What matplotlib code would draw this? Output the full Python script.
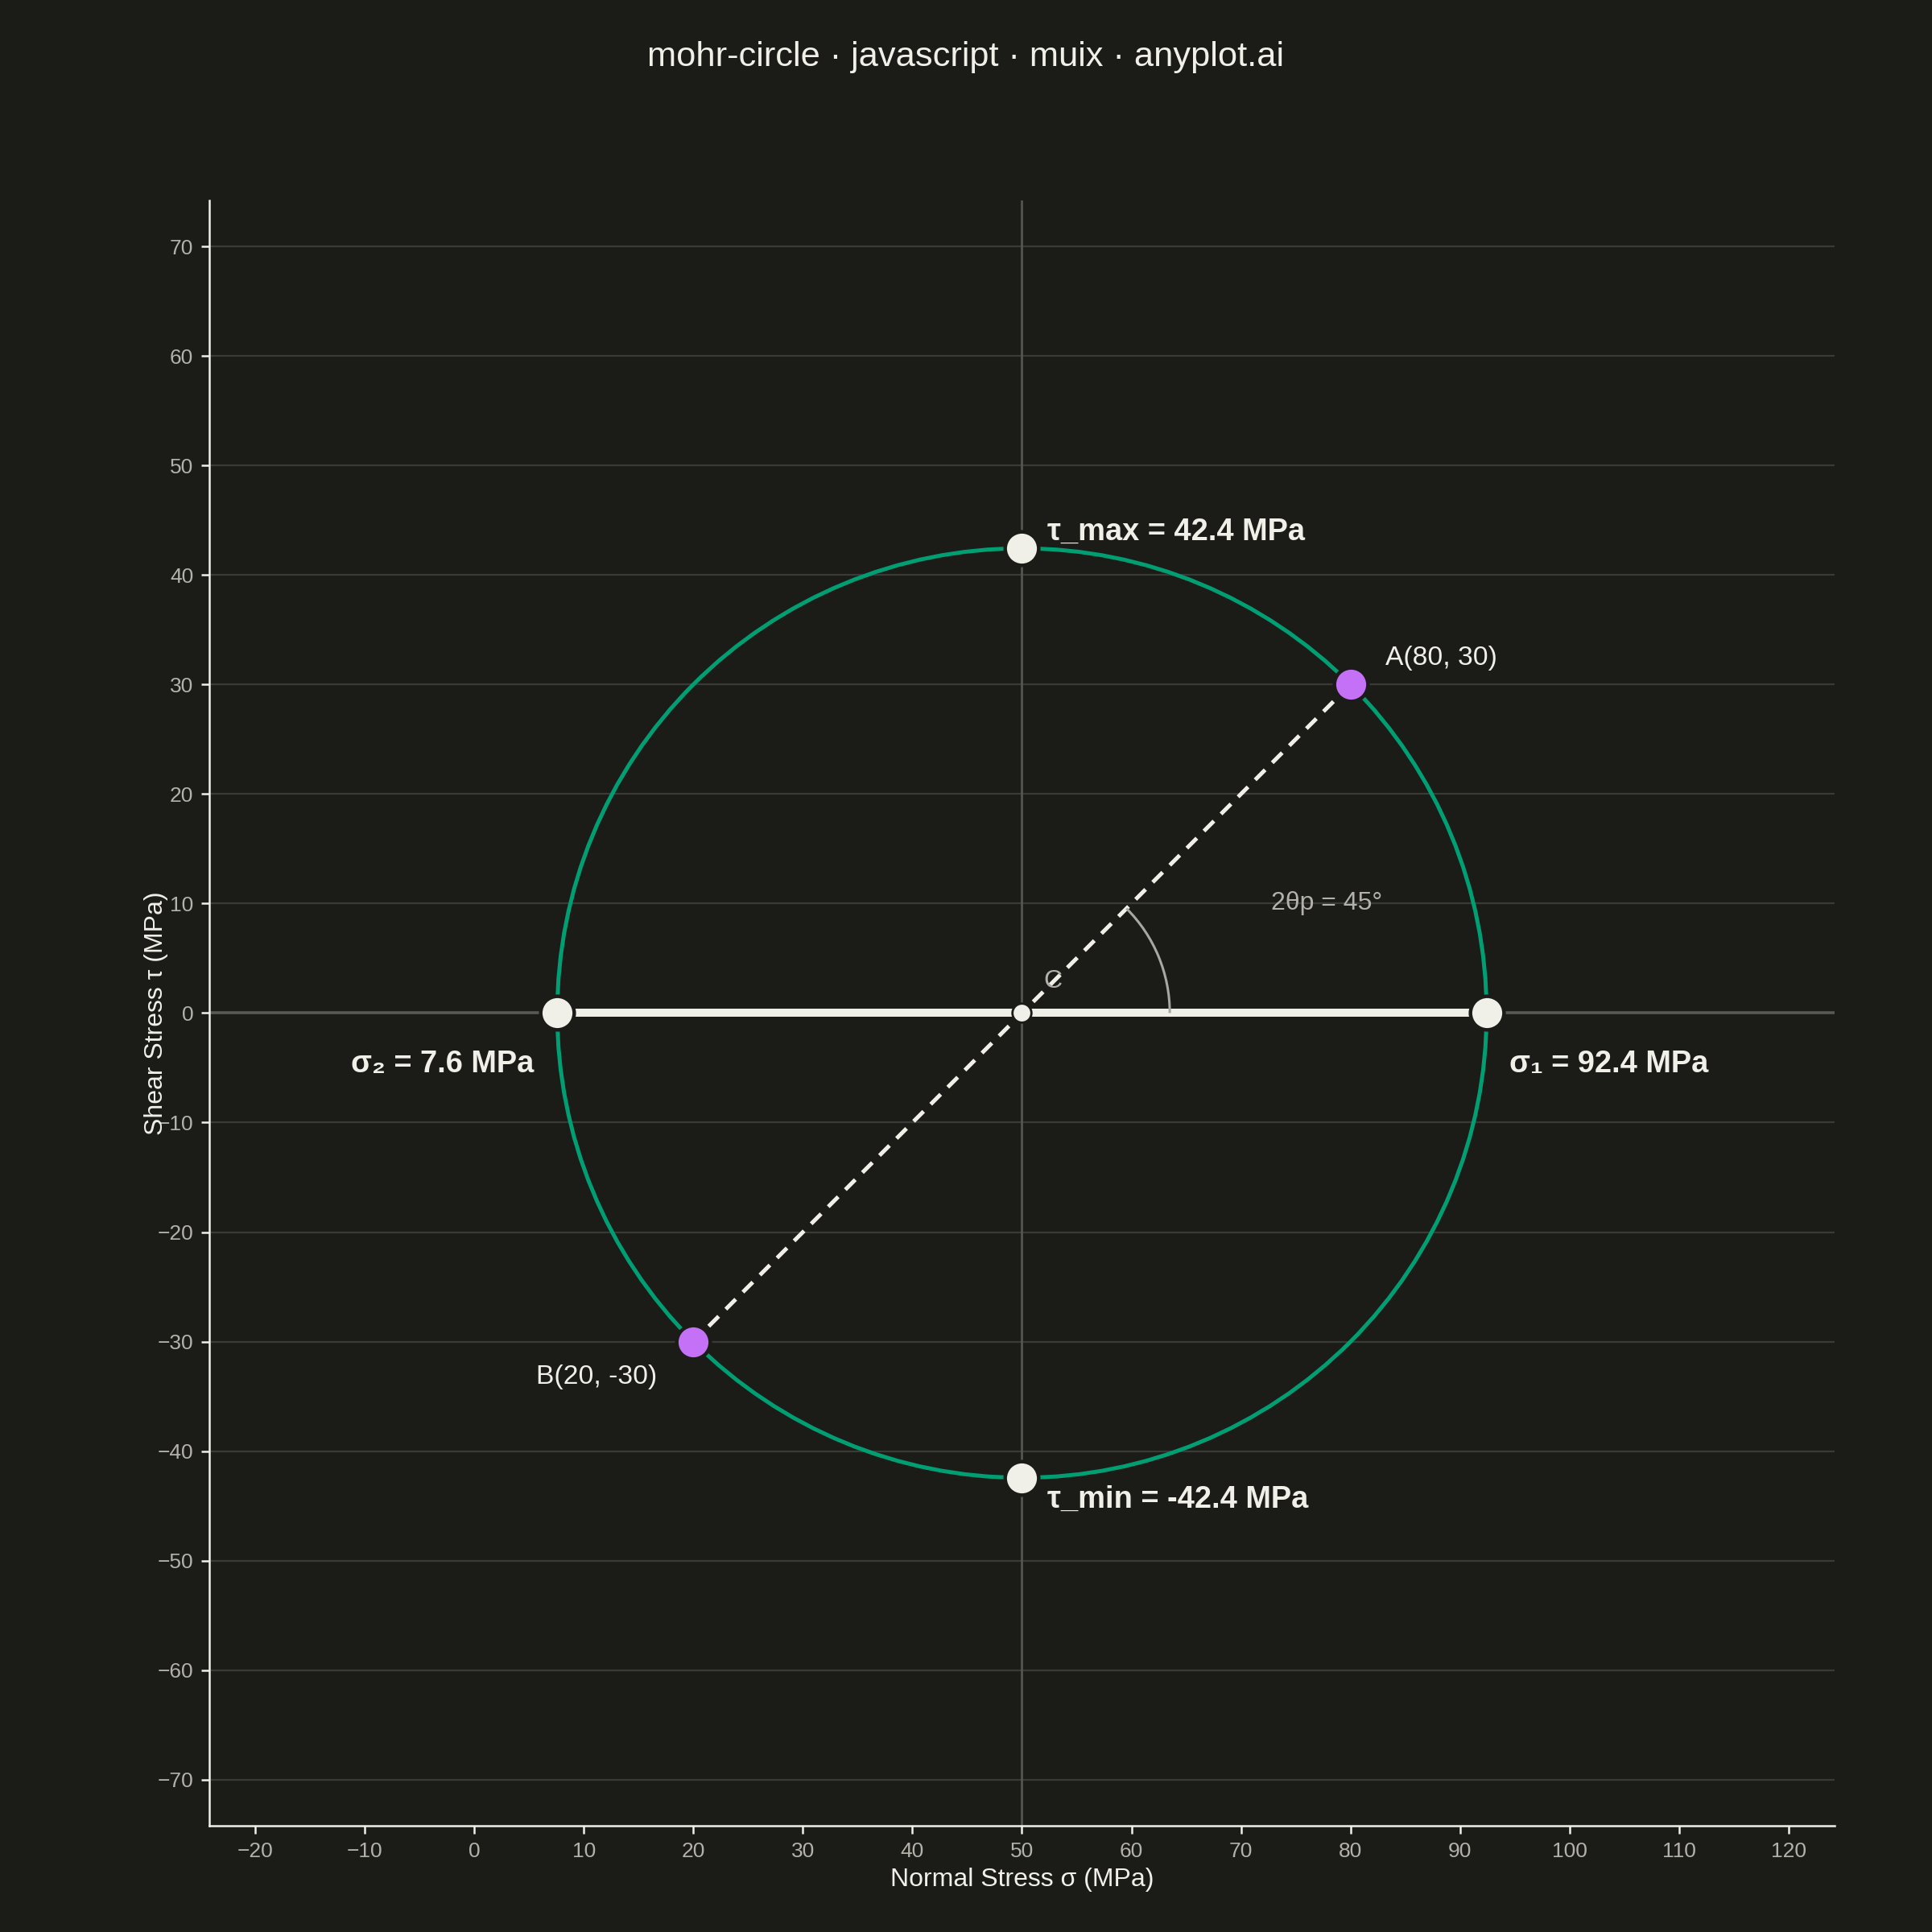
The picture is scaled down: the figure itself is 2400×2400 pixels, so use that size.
import numpy as np
import matplotlib
matplotlib.use("Agg")
import matplotlib.pyplot as plt
from matplotlib.patches import Circle, Arc

# Stress state (MPa)
sigma_x = 80.0
sigma_y = 20.0
tau_xy = 30.0

x_ticks = list(range(-20, 121, 10))
y_ticks = list(range(-70, 71, 10))

# Derived Mohr circle quantities
center = (sigma_x + sigma_y) / 2
radius = np.hypot((sigma_x - sigma_y) / 2, tau_xy)
sigma_1 = center + radius
sigma_2 = center - radius
two_theta_p = np.degrees(np.arctan2(tau_xy, (sigma_x - sigma_y) / 2))

BG = "#1b1b17"
INK = "#f0efe8"
MUTED = "#b3b2aa"
GRID = "#3a3a36"
GREEN = "#009E73"
PURPLE = "#C471F8"

plt.rcParams["font.family"] = ["Liberation Sans", "DejaVu Sans"]

fig = plt.figure(figsize=(12, 12), dpi=200, facecolor=BG)
ax = fig.add_axes([0.1083, 0.055, 0.8413, 0.8413], facecolor=BG)

ax.set_xlim(-24.2, 124.2)
ax.set_ylim(-74.2, 74.2)
ax.set_aspect("equal", adjustable="box")

# horizontal grid only, plus reference lines
for yt in y_ticks:
    if yt != 0:
        ax.axhline(yt, color=GRID, lw=0.8, zorder=0)
ax.axhline(0, color="#5a5a55", lw=1.3, zorder=1)
ax.axvline(center, color="#55554f", lw=1.0, zorder=1)

# Mohr circle
ax.add_patch(Circle((center, 0), radius, fill=False, ec=GREEN, lw=1.8, zorder=2))

# principal stress line
ax.plot([sigma_2, sigma_1], [0, 0], color=INK, lw=3.6, solid_capstyle="butt", zorder=3)

# diameter A-B
ax.plot([sigma_x, sigma_y], [tau_xy, -tau_xy], color=INK, lw=1.8,
        linestyle=(0, (3.5, 2.5)), zorder=3)

# angle arc
ax.add_patch(Arc((center, 0), 2 * 13.5, 2 * 13.5, theta1=0, theta2=two_theta_p,
                 color="#a8a8a2", lw=1.1, zorder=3))
ax.text(77.8, 10.0, f"2θp = {two_theta_p:.0f}°", color=MUTED, fontsize=11.5,
        ha="center", va="center", zorder=5)

# markers
ax.plot([sigma_1, sigma_2, center, center], [0, 0, radius, -radius], "o", ms=15,
        mfc=INK, mec=BG, mew=1.6, ls="none", zorder=4)
ax.plot([center], [0], "o", ms=8.5, mfc=INK, mec=BG, mew=1.0, zorder=4)
ax.plot([sigma_x, sigma_y], [tau_xy, -tau_xy], "o", ms=15, mfc=PURPLE, mec=BG,
        mew=1.6, ls="none", zorder=4)

ax.text(52.8, 2.9, "C", color=MUTED, fontsize=11.5, ha="center", va="center", zorder=5)

bold = dict(color=INK, fontsize=13.7, fontweight="bold", va="center", zorder=5)
ax.text(center + 2.3, radius + 1.5, f"τ_max = {radius:.1f} MPa", ha="left", **bold)
ax.text(center + 2.3, -radius - 2.0, f"τ_min = {-radius:.1f} MPa", ha="left", **bold)
ax.text(sigma_1 + 2.1, -4.7, f"σ₁ = {sigma_1:.1f} MPa", ha="left", **bold)
ax.text(sigma_2 - 2.1, -4.7, f"σ₂ = {sigma_2:.1f} MPa", ha="right", **bold)

ax.text(sigma_x + 3.2, tau_xy + 2.4, f"A({sigma_x:.0f}, {tau_xy:.0f})", color=INK,
        fontsize=12.1, ha="left", va="center", zorder=5)
ax.text(sigma_y - 3.3, -tau_xy - 3.2, f"B({sigma_y:.0f}, {-tau_xy:.0f})", color=INK,
        fontsize=12.1, ha="right", va="center", zorder=5)

# axes styling
ax.set_xticks(x_ticks)
ax.set_yticks(y_ticks)
ax.tick_params(colors=INK, labelcolor=MUTED, labelsize=9.5, length=3.6, width=0.9)
for side in ["top", "right"]:
    ax.spines[side].set_visible(False)
for side in ["left", "bottom"]:
    ax.spines[side].set_color(INK)
    ax.spines[side].set_linewidth(0.9)

ax.set_xlabel("Normal Stress σ (MPa)", color=INK, fontsize=11.5)
ax.set_ylabel("Shear Stress τ (MPa)", color=INK, fontsize=11.5)
ax.xaxis.set_label_coords(0.5, -0.0334)
ax.yaxis.set_label_coords(-0.0326, 0.5)
ax.xaxis.label.set_va("center")
ax.yaxis.label.set_va("center")

fig.text(0.5, 0.9705, "mohr-circle · javascript · muix · anyplot.ai", color=INK,
         fontsize=15.6, ha="center", va="center")

fig.savefig("out.png", dpi=200, facecolor=BG)
